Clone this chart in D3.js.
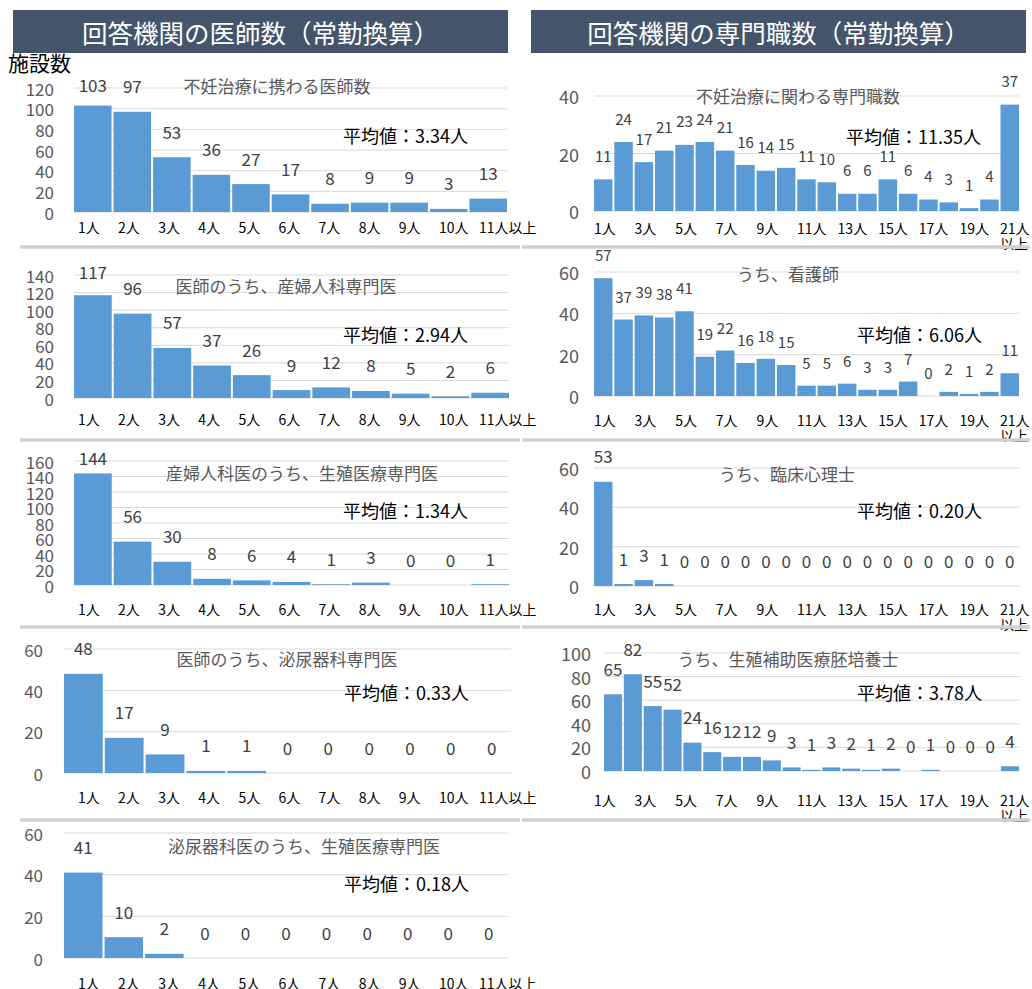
<!DOCTYPE html>
<html>
<head>
<meta charset="utf-8">
<script src="https://cdn.jsdelivr.net/npm/d3@7"></script>
<style>
  body { margin: 0; background: #fff; }
  svg { display: block; font-family: "Noto Sans CJK JP", "Noto Sans", sans-serif; }
</style>
</head>
<body>
<div id="chart"></div>
<script>
// Category labels
const doctorCategories = ["1人", "2人", "3人", "4人", "5人", "6人", "7人", "8人", "9人", "10人", "11人以上"];
const staffCategories = ["1人", "2人", "3人", "4人", "5人", "6人", "7人", "8人", "9人", "10人",
    "11人", "12人", "13人", "14人", "15人", "16人", "17人", "18人", "19人", "20人", "21人以上"];

// Doctors (left column)
const fertilityDoctors = [103, 97, 53, 36, 27, 17, 8, 9, 9, 3, 13];
const obgynSpecialists = [117, 96, 57, 37, 26, 9, 12, 8, 5, 2, 6];
const obgynReproSpecialists = [144, 56, 30, 8, 6, 4, 1, 3, 0, 0, 1];
const urologySpecialists = [48, 17, 9, 1, 1, 0, 0, 0, 0, 0, 0];
const urologyReproSpecialists = [41, 10, 2, 0, 0, 0, 0, 0, 0, 0, 0];

// Staff (right column)
const fertilityStaff = [11, 24, 17, 21, 23, 24, 21, 16, 14, 15, 11, 10, 6, 6, 11, 6, 4, 3, 1, 4, 37];
const nurses = [57, 37, 39, 38, 41, 19, 22, 16, 18, 15, 5, 5, 6, 3, 3, 7, 0, 2, 1, 2, 11];
const psychologists = [53, 1, 3, 1, 0, 0, 0, 0, 0, 0, 0, 0, 0, 0, 0, 0, 0, 0, 0, 0, 0];
const embryologists = [65, 82, 55, 52, 24, 16, 12, 12, 9, 3, 1, 3, 2, 1, 2, 0, 1, 0, 0, 0, 4];

const doctorTitles = ["不妊治療に携わる医師数", "医師のうち、産婦人科専門医", "産婦人科医のうち、生殖医療専門医",
    "医師のうち、泌尿器科専門医", "泌尿器科医のうち、生殖医療専門医"];
const doctorMeans = ["3.34", "2.94", "1.34", "0.33", "0.18"];
const doctorYMax = [120, 140, 160, 60, 60];

const staffTitles = ["不妊治療に関わる専門職数", "うち、看護師", "うち、臨床心理士", "うち、生殖補助医療胚培養士"];
const staffMeans = ["11.35", "6.06", "0.20", "3.78"];
const staffYMax = [40, 60, 60, 100];

const doctorSeries = [fertilityDoctors, obgynSpecialists, obgynReproSpecialists, urologySpecialists, urologyReproSpecialists];
const staffSeries = [fertilityStaff, nurses, psychologists, embryologists];

const width = 1032, height = 989;
const barColor = "#5B9BD5";

const svg = d3.select('#chart')
    .append('svg')
    .attr('width', width)
    .attr('height', height);

// Panel geometry
const doctorLayout = [
    {x0: 74, x1: 507, y0: 212, y1: 88, tickX: 54, title: [277, 85], mean: [343, 135], catY: 227, labelTop: 84},
    {x0: 74, x1: 509, y0: 398, y1: 275, tickX: 54, title: [286, 285], mean: [343, 334], catY: 419, labelTop: 271},
    {x0: 74, x1: 509, y0: 585, y1: 461, tickX: 54, title: [302, 472], mean: [343, 510], catY: 609, labelTop: 457},
    {x0: 64, x1: 511, y0: 773, y1: 649, tickX: 43, title: [287, 658], mean: [344, 692], catY: 797, labelTop: 0},
    {x0: 64, x1: 508, y0: 958, y1: 833, tickX: 43, title: [304, 845], mean: [344, 883], catY: 983, labelTop: 0}
];
const staffLayout = [
    {x0: 594, x1: 1019, y0: 211, y1: 96, tickX: 579, title: [798, 95], mean: [846, 136], catY: 228, labelOff: 24, valueSize: 15},
    {x0: 594, x1: 1019, y0: 396, y1: 272, tickX: 579, title: [788, 273], mean: [857, 334], catY: 420, labelOff: 23.5, valueSize: 15},
    {x0: 594, x1: 1019, y0: 586, y1: 468, tickX: 579, title: [787, 473], mean: [857, 510], catY: 609, labelOff: 26, valueSize: 17},
    {x0: 604, x1: 1019, y0: 771, y1: 653, tickX: 591, title: [788, 658], mean: [857, 692], catY: 800, labelOff: 26, valueSize: 17}
];

// Headers
const headers = [
    {x: 13, w: 495, text: "回答機関の医師数（常勤換算）"},
    {x: 531, w: 495, text: "回答機関の専門職数（常勤換算）"}
];
headers.forEach(h => {
    svg.append("rect")
        .attr("x", h.x).attr("y", 10)
        .attr("width", h.w).attr("height", 43)
        .attr("fill", "#44546A");
    svg.append("text")
        .attr("x", h.x + h.w / 2).attr("y", 31)
        .attr("text-anchor", "middle")
        .attr("dominant-baseline", "central")
        .attr("fill", "#fff")
        .style("font-size", "25.5px")
        .text(h.text);
});

svg.append("text")
    .attr("x", 8).attr("y", 62)
    .attr("dominant-baseline", "central")
    .attr("fill", "#000")
    .style("font-size", "21px")
    .text("施設数");

function drawPanel(values, cats, yMax, title, mean, lay, opts) {
    const x = d3.scaleBand()
        .domain(cats)
        .range([lay.x0, lay.x1])
        .paddingInner(opts.pad)
        .paddingOuter(0);
    const y = d3.scaleLinear()
        .domain([0, yMax])
        .range([lay.y0, lay.y1]);
    const xLabel = d3.scalePoint()
        .domain(cats)
        .range(opts.labelRange);

    const g = svg.append("g");

    // gridlines + tick labels
    const ticks = d3.range(0, yMax + 1, 20);
    g.selectAll(".grid")
        .data(ticks)
        .enter().append("line")
        .attr("x1", lay.x0).attr("x2", lay.x1)
        .attr("y1", d => y(d)).attr("y2", d => y(d))
        .attr("stroke", "#D9D9D9")
        .attr("stroke-width", 1);
    g.selectAll(".tick")
        .data(ticks)
        .enter().append("text")
        .attr("x", lay.tickX)
        .attr("y", d => y(d))
        .attr("text-anchor", "end")
        .attr("dominant-baseline", "central")
        .attr("fill", "#595959")
        .style("font-size", opts.tickSize + "px")
        .text(d => d);

    // title over the gridlines
    g.append("text")
        .attr("x", lay.title[0]).attr("y", lay.title[1])
        .attr("text-anchor", "middle")
        .attr("dominant-baseline", "central")
        .attr("fill", "#595959")
        .style("font-size", "17px")
        .text(title);

    // bars
    g.selectAll(".bar")
        .data(values.map((v, i) => ({cat: cats[i], v: v})).filter(d => d.v > 0))
        .enter().append("rect")
        .attr("x", d => x(d.cat))
        .attr("y", d => y(d.v))
        .attr("width", x.bandwidth())
        .attr("height", d => y(0) - y(d.v))
        .attr("fill", barColor);

    // value labels
    g.selectAll(".val")
        .data(values.map((v, i) => ({cat: cats[i], v: v})))
        .enter().append("text")
        .attr("x", d => x(d.cat) + x.bandwidth() / 2)
        .attr("y", d => Math.max(y(d.v) - opts.labelOff, opts.labelTop))
        .attr("text-anchor", "middle")
        .attr("dominant-baseline", "central")
        .attr("fill", "#404040")
        .style("font-size", opts.valueSize + "px")
        .text(d => d.v);

    // category labels
    cats.forEach((c, i) => {
        if (i % opts.labelEvery !== 0) return;
        const split = opts.wrap && c.endsWith("以上");
        const t = g.append("text")
            .attr("x", xLabel(c))
            .attr("y", lay.catY)
            .attr("text-anchor", "start")
            .attr("dominant-baseline", "central")
            .attr("fill", "#000")
            .style("font-size", "14px");
        if (split) {
            t.text(c.replace("以上", ""));
            g.append("text")
                .attr("x", xLabel(c))
                .attr("y", lay.catY + 15)
                .attr("dominant-baseline", "central")
                .attr("fill", "#000")
                .style("font-size", "14px")
                .text("以上");
        } else {
            t.text(c);
        }
    });

    // mean
    g.append("text")
        .attr("x", lay.mean[0]).attr("y", lay.mean[1])
        .attr("dominant-baseline", "central")
        .attr("fill", "#000")
        .style("font-size", "18px")
        .text("平均値：" + mean + "人");
}

doctorSeries.forEach((vals, i) => {
    drawPanel(vals, doctorCategories, doctorYMax[i], doctorTitles[i], doctorMeans[i], doctorLayout[i], {
        pad: 0.05, labelRange: [78, 479], labelEvery: 1, wrap: false,
        tickSize: 17, valueSize: 17, labelOff: 26, labelTop: doctorLayout[i].labelTop
    });
});

staffSeries.forEach((vals, i) => {
    const lay = staffLayout[i];
    drawPanel(vals, staffCategories, staffYMax[i], staffTitles[i], staffMeans[i], lay, {
        pad: 0.09, labelRange: [594, 1000], labelEvery: 2, wrap: true,
        tickSize: 18, valueSize: lay.valueSize, labelOff: lay.labelOff, labelTop: 0
    });
});

// separators
const sepY = [247, 440, 627, 820];
sepY.forEach(yy => {
    svg.append("line").attr("x1", 20).attr("x2", 520).attr("y1", yy).attr("y2", yy)
        .attr("stroke", "#D0D0D0").attr("stroke-width", 3.5);
    svg.append("line").attr("x1", 522).attr("x2", 1030).attr("y1", yy).attr("y2", yy)
        .attr("stroke", "#D0D0D0").attr("stroke-width", 3.5);
});
</script>
</body>
</html>
